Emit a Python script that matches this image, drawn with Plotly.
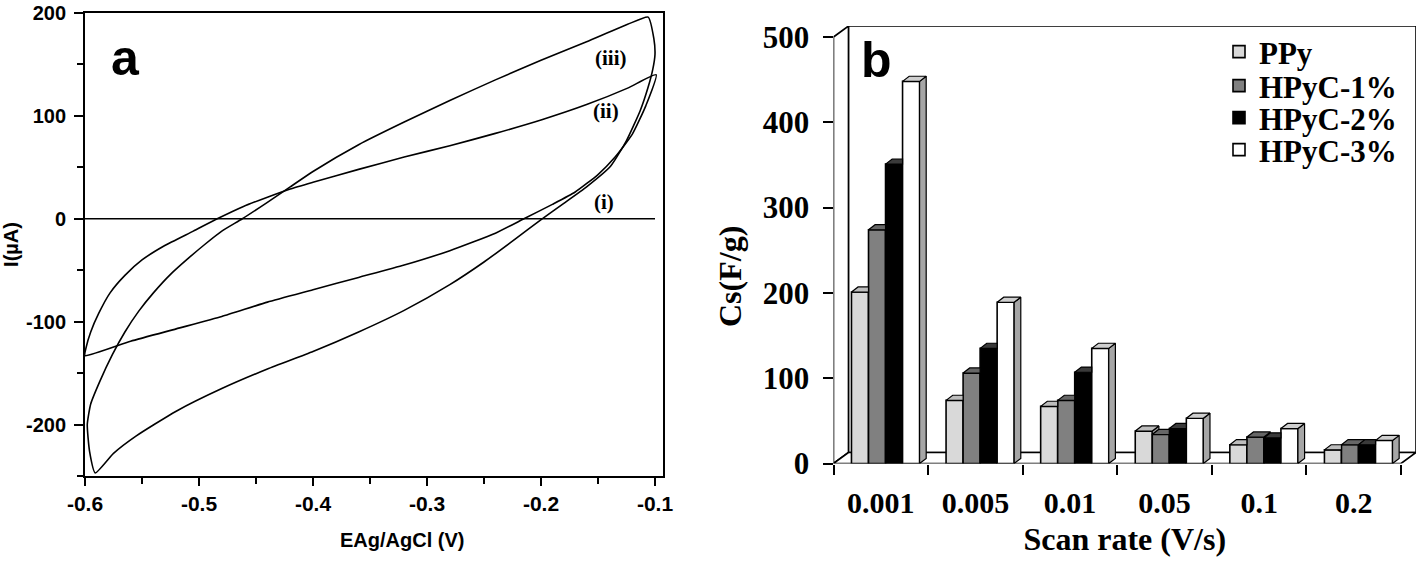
import plotly.graph_objects as go

W, H = 1418, 563

# ---------------- Panel a data (cyclic voltammograms) ----------------
curve_i_x = [-0.600, -0.100]
curve_i_y = [0, 0]

curve_ii_x = [-0.600, -0.560, -0.520, -0.480, -0.440, -0.400, -0.360, -0.320, -0.280, -0.240,
              -0.215, -0.190, -0.170, -0.150, -0.135, -0.120, -0.108, -0.099,
              -0.124, -0.160, -0.200, -0.240, -0.280, -0.320, -0.360, -0.400, -0.420, -0.440,
              -0.461, -0.484, -0.505, -0.530, -0.550, -0.565, -0.578, -0.588, -0.595, -0.599, -0.600]
curve_ii_y = [-133, -119, -107, -95, -81, -69, -57, -45, -31, -14,
              0, 14, 26, 43, 60, 82, 110, 140,
              127, 111, 96, 83, 71, 60, 48, 35.5, 29, 21,
              12, 0, -12, -26, -40, -55, -72, -92, -110, -125, -133]

curve_iii_x = [-0.106, -0.101, -0.100, -0.102, -0.106, -0.113, -0.125, -0.139, -0.160, -0.180,
               -0.199, -0.223, -0.250, -0.280, -0.320, -0.360, -0.400, -0.440, -0.480, -0.520,
               -0.555, -0.575, -0.591, -0.596, -0.598, -0.595, -0.587, -0.576, -0.565, -0.553,
               -0.540, -0.525, -0.510, -0.495, -0.480, -0.462, -0.440, -0.420, -0.400, -0.360,
               -0.320, -0.280, -0.240, -0.200, -0.160, -0.124, -0.106]
curve_iii_y = [196, 175, 160, 145, 128, 105, 76, 51, 31, 15,
               0, -20, -42, -64, -89, -110, -129, -146, -165, -187,
               -211, -228, -247, -226, -200, -180, -158, -132, -110, -90,
               -72, -54, -39, -25, -12, 0, 16, 31, 46, 72,
               94, 115, 135, 154, 172, 189, 196]

curve_labels = ["(i)", "(ii)", "(iii)"]
curve_label_x = [-0.145, -0.143, -0.139]
curve_label_y = [16, 105, 156]

xa_tickvals = [-0.6, -0.5, -0.4, -0.3, -0.2, -0.1]
xa_ticktext = ["-0.6", "-0.5", "-0.4", "-0.3", "-0.2", "-0.1"]
ya_tickvals = [-200, -100, 0, 100, 200]
ya_ticktext = ["-200", "-100", "0", "100", "200"]

# ---------------- Panel b data (specific capacitance) ----------------
scan_rates = ["0.001", "0.005", "0.01", "0.05", "0.1", "0.2"]
series_names = ["PPy", "HPyC-1%", "HPyC-2%", "HPyC-3%"]
cs_ppy = [201, 74, 67, 38, 22, 16]
cs_hpyc1 = [274, 106, 74, 34, 31, 22]
cs_hpyc2 = [351, 135, 107, 41, 30, 22]
cs_hpyc3 = [448, 189, 135, 53, 41, 27]
yb_tickvals = [0, 100, 200, 300, 400, 500]

series_values = [cs_ppy, cs_hpyc1, cs_hpyc2, cs_hpyc3]
face_colors = ["#d9d9d9", "#808080", "#000000", "#ffffff"]
side_colors = ["#9a9a9a", "#4d4d4d", "#000000", "#a6a6a6"]
cap_colors = ["#bdbdbd", "#666666", "#3a3a3a", "#cfcfcf"]
legend_ids = ["legend", "legend2", "legend3", "legend4"]
legend_rows_px = [52, 86, 118, 150]

SANS = "Liberation Sans, Arial, sans-serif"
SERIF = "Liberation Serif, Times New Roman, serif"


def fx(px):
    return px / W


def fy(py):
    return 1 - py / H


fig = go.Figure()

# ---- panel a traces
for xs, ys in [(curve_i_x, curve_i_y), (curve_ii_x, curve_ii_y), (curve_iii_x, curve_iii_y)]:
    fig.add_trace(go.Scatter(x=xs, y=ys, mode="lines", xaxis="x", yaxis="y",
                             line=dict(color="black", width=1.6, shape="spline", smoothing=0.5),
                             showlegend=False, hoverinfo="skip"))

# ---- panel b geometry (pseudo-3D)
n_groups = len(scan_rates)
GAP = 0.19      # offset of first bar inside a group (axis units)
BW = 0.18       # bar width
BDX = 0.07      # bar depth, x units
BDY = 6.0       # bar depth, y units
YTOP = 500.0
YMAX = 512.9
DX = 0.158      # wall depth, x units
DY = YMAX - YTOP


def bar_left(g, k):
    return g + GAP + BW * k


for k, (name, vals) in enumerate(zip(series_names, series_values)):
    fig.add_trace(go.Bar(
        x=[bar_left(g, k) + BW / 2 for g in range(n_groups)], y=vals, width=BW,
        name=name, xaxis="x2", yaxis="y2", legend=legend_ids[k],
        marker=dict(color=face_colors[k], line=dict(color="black", width=1.6)),
        hoverinfo="skip"))

# side and cap faces (drawn from the data values)
for k, vals in enumerate(series_values):
    sx, sy, cx, cy = [], [], [], []
    for g in range(n_groups):
        v = vals[g]
        vn = series_values[k + 1][g] if k + 1 < len(series_values) else 0
        xl = bar_left(g, k)
        xr = xl + BW
        if v > vn:
            sx += [xr, xr + BDX, xr + BDX, xr, xr, None]
            sy += [vn, vn + BDY, v + BDY, v, vn, None]
        if vn > v:
            cx += [xl, xr, xr, xl + BDX, xl, None]
            cy += [v, v, v + BDY, v + BDY, v, None]
        else:
            cx += [xl, xr, xr + BDX, xl + BDX, xl, None]
            cy += [v, v, v + BDY, v + BDY, v, None]
    fig.add_trace(go.Scatter(x=sx, y=sy, mode="lines", fill="toself", fillcolor=side_colors[k],
                             line=dict(color="black", width=1.2), xaxis="x2", yaxis="y2",
                             showlegend=False, hoverinfo="skip"))
    fig.add_trace(go.Scatter(x=cx, y=cy, mode="lines", fill="toself", fillcolor=cap_colors[k],
                             line=dict(color="black", width=1.2), xaxis="x2", yaxis="y2",
                             showlegend=False, hoverinfo="skip"))

shapes = [
    # back wall
    dict(type="rect", xref="x2", yref="y2", x0=DX, y0=DY, x1=n_groups + DX, y1=YTOP + DY,
         fillcolor="white", line=dict(color="black", width=1.6), layer="below"),
    # side wall
    dict(type="path", xref="x2", yref="y2",
         path=f"M 0,0 L {DX},{DY} L {DX},{YTOP + DY} L 0,{YTOP} Z",
         fillcolor="white", line=dict(color="black", width=1.6), layer="below"),
    # floor
    dict(type="path", xref="x2", yref="y2",
         path=f"M 0,0 L {n_groups},0 L {n_groups + DX},{DY} L {DX},{DY} Z",
         fillcolor="white", line=dict(color="black", width=1.6), layer="below"),
]

annotations = [
    dict(text="a", x=fx(125), y=fy(58), xref="paper", yref="paper", showarrow=False,
         xanchor="center", yanchor="middle", font=dict(family=SANS, size=50, color="black", weight="bold")),
    dict(text="b", x=fx(876), y=fy(60), xref="paper", yref="paper", showarrow=False,
         xanchor="center", yanchor="middle", font=dict(family=SANS, size=50, color="black", weight="bold")),
    dict(text="EAg/AgCl (V)", x=fx(402), y=fy(540), xref="paper", yref="paper", showarrow=False,
         xanchor="center", yanchor="middle", font=dict(family=SANS, size=20, color="black", weight="bold")),
    dict(text="Cs(F/g)", x=fx(730), y=fy(277), xref="paper", yref="paper", showarrow=False,
         textangle=-90, xanchor="center", yanchor="middle",
         font=dict(family=SERIF, size=32, color="black", weight="bold")),
]
for t, lx, ly in zip(curve_labels, curve_label_x, curve_label_y):
    annotations.append(dict(text=t, x=lx, y=ly, xref="x", yref="y", showarrow=False,
                            font=dict(family=SERIF, size=21, color="black", weight="bold")))

legend_style = dict(xanchor="left", yanchor="middle", bgcolor="rgba(0,0,0,0)", borderwidth=0,
                    font=dict(family=SERIF, size=31, color="black", weight="bold"))
legends = {}
for lid, row in zip(legend_ids, legend_rows_px):
    legends[lid] = dict(x=fx(1219), y=fy(row), **legend_style)

fig.update_layout(
    width=W, height=H,
    margin=dict(l=0, r=0, t=0, b=0, autoexpand=False),
    paper_bgcolor="white", plot_bgcolor="rgba(0,0,0,0)",
    showlegend=True,
    barmode="overlay",
    shapes=shapes,
    annotations=annotations,
    **legends,
    xaxis=dict(domain=[fx(85), fx(663)], range=[-0.6, -0.6 + 578 / 1140], anchor="y",
               automargin=False,
               tickvals=xa_tickvals, ticktext=xa_ticktext,
               ticks="outside", ticklen=8, tickwidth=1.5, tickcolor="black",
               minor=dict(dtick=0.05, tick0=-0.6, ticks="outside", ticklen=6, tickwidth=1.5, tickcolor="black"),
               showline=True, linewidth=1.8, linecolor="black", mirror=True,
               showgrid=False, zeroline=False, ticklabelstandoff=0, ticklabeloverflow="allow",
               tickfont=dict(family=SANS, size=21, color="black", weight="bold")),
    yaxis=dict(domain=[fy(476), fy(13)], range=[-250, 200], anchor="x",
               automargin=False,
               tickvals=ya_tickvals, ticktext=ya_ticktext,
               ticks="outside", ticklen=9, tickwidth=1.5, tickcolor="black",
               minor=dict(dtick=50, tick0=0, ticks="outside", ticklen=6, tickwidth=1.5, tickcolor="black"),
               showline=True, linewidth=1.8, linecolor="black", mirror=True,
               showgrid=False, zeroline=False, ticklabelstandoff=4, ticklabeloverflow="allow",
               tickfont=dict(family=SANS, size=20, color="black", weight="bold"),
               title=dict(text="I(µA)", standoff=6,
                          font=dict(family=SANS, size=20, color="black", weight="bold"))),
    xaxis2=dict(domain=[fx(833.5), fx(1416)], range=[0, n_groups + DX], anchor="y2",
                automargin=False,
                tickvals=[g + 0.5 for g in range(n_groups)], ticktext=scan_rates, ticks="",
                minor=dict(tickvals=list(range(n_groups + 1)), ticks="outside", ticklen=10,
                           tickwidth=1.5, tickcolor="black", showgrid=False),
                showline=False, showgrid=False, zeroline=False, ticklabelstandoff=18,
                ticklabeloverflow="allow",
                tickfont=dict(family=SERIF, size=30, color="black", weight="bold"),
                title=dict(text="Scan rate (V/s)", standoff=10,
                           font=dict(family=SERIF, size=32, color="black", weight="bold"))),
    yaxis2=dict(domain=[fy(463.5), fy(26)], range=[0, YMAX], anchor="x2",
                automargin=False,
                tickvals=yb_tickvals, ticks="outside", ticklen=10, tickwidth=1.5, tickcolor="black",
                showline=False, showgrid=False, zeroline=False, ticklabelstandoff=7,
                ticklabeloverflow="allow",
                tickfont=dict(family=SERIF, size=31, color="black", weight="bold")),
)

fig.write_html("out.html", config={"displayModeBar": False},
               post_script="document.body.style.margin='0';")
